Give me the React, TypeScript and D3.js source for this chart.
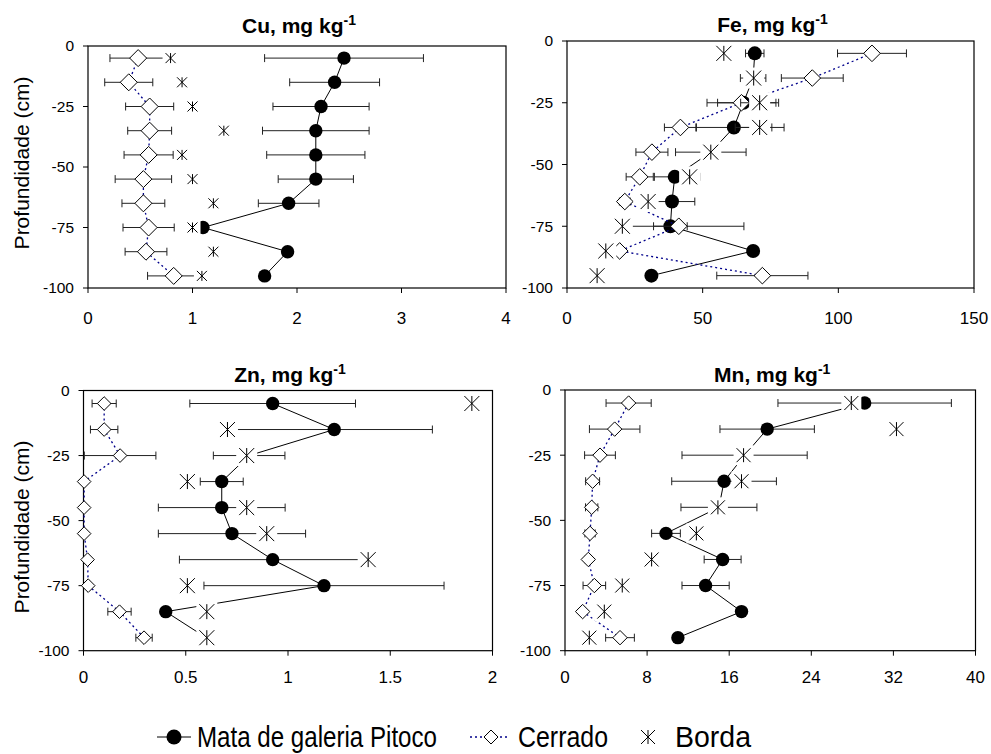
import React from 'react';
import * as d3 from 'd3';

// ---------- data ----------
const depths = [-5, -15, -25, -35, -45, -55, -65, -75, -85, -95];
const yTicks = [0, -25, -50, -75, -100];

const cuMata = [2.45, 2.36, 2.23, 2.18, 2.18, 2.18, 1.92, 1.1, 1.91, 1.69];
const cuMataErr = [0.76, 0.43, 0.46, 0.51, 0.47, 0.36, 0.29, 0, 0, 0];
const cuCerrado = [0.48, 0.39, 0.59, 0.59, 0.58, 0.53, 0.53, 0.58, 0.555, 0.82];
const cuCerradoErr = [0.27, 0.23, 0.23, 0.21, 0.235, 0.27, 0.205, 0.245, 0.2, 0.25];
const cuBorda = [0.79, 0.9, 1.0, 1.3, 0.9, 1.0, 1.2, 1.0, 1.2, 1.09];
const cuBordaErr = [0, 0, 0, 0, 0, 0, 0, 0, 0, 0];
const cuTicks = [0, 1, 2, 3, 4];

const feMata = [69.2, 68.6, 65, 61.5, 53, 39.7, 38.7, 38.1, 68.6, 31.1];
const feMataErr = [3.4, 4.7, 9.5, 14, 13, 7.5, 8.4, 6.2, 0, 0];
const feCerrado = [112.4, 90.4, 64.3, 41.8, 31.3, 26.8, 21.3, 41.2, 19.4, 72.0];
const feCerradoErr = [12.7, 11.4, 12.7, 5.9, 5.9, 5, 2, 24, 0, 16.8];
const feBorda = [57.8, 68.8, 71, 71, 53, 45.2, 29.9, 20.4, 14.3, 11.1];
const feBordaErr = [0, 0, 7, 9, 0, 3.7, 0, 0, 0, 0];
const feTicks = [0, 50, 100, 150];

const znMata = [0.925, 1.226, 0.81, 0.676, 0.676, 0.726, 0.925, 1.176, 0.402, 0.6];
const znMataErr = [0.405, 0.48, 0.175, 0.105, 0.31, 0.36, 0.456, 0.587, 0, 0];
const znCerrado = [0.101, 0.101, 0.179, 0.003, 0.003, 0.003, 0.02, 0.023, 0.176, 0.296];
const znCerradoErr = [0.059, 0.067, 0.175, 0, 0, 0.01, 0, 0, 0.057, 0.04];
const znBorda = [1.899, 0.704, 0.798, 0.508, 0.798, 0.896, 1.392, 0.508, 0.603, 0.603];
const znBordaErr = [0, 0, 0, 0, 0, 0, 0, 0, 0, 0];
const znTicks = [0, 0.5, 1, 1.5, 2];

const mnMata = [29.2, 19.7, 17.5, 15.5, 15.0, 9.84, 15.36, 13.7, 17.2, 11.0];
const mnMataErr = [8.45, 4.6, 6.1, 5.1, 3.7, 1.4, 1.8, 2.3, 0, 0];
const mnCerrado = [6.2, 4.84, 3.41, 2.69, 2.6, 2.44, 2.27, 2.86, 1.72, 5.36];
const mnCerradoErr = [2.2, 2.46, 1.5, 0.68, 0.6, 0.5, 0.3, 1.1, 0, 1.4];
const mnBorda = [27.9, 32.3, 17.4, 17.2, 14.9, 12.8, 8.44, 5.58, 3.83, 2.37];
const mnBordaErr = [0, 0, 0, 0, 0, 0, 0, 0, 0, 0];
const mnTicks = [0, 8, 16, 24, 32, 40];

const seriesNames = ['Mata de galeria Pitoco', 'Cerrado', 'Borda'];
const yLabel = 'Profundidade (cm)';

// ---------- layout ----------
const FONT = "'Liberation Sans', Arial, Helvetica, sans-serif";

const panels = [
  { el: 'Cu', mata: cuMata, mataErr: cuMataErr, cerrado: cuCerrado, cerradoErr: cuCerradoErr, borda: cuBorda, bordaErr: cuBordaErr, domain: [0, 4], ticks: cuTicks,
    l: 88, r: 506, t: 46, b: 288, circle: 6.7, diamond: 8.5, star: 5, xLab: 36, titleY: 33, showY: true, yLabY: 163 },
  { el: 'Fe', mata: feMata, mataErr: feMataErr, cerrado: feCerrado, cerradoErr: feCerradoErr, borda: feBorda, bordaErr: feBordaErr, domain: [0, 150], ticks: feTicks,
    l: 567, r: 974, t: 41, b: 288, circle: 7, diamond: 8.3, star: 7.5, xLab: 36, titleY: 31.5, showY: false, yLabY: 0 },
  { el: 'Zn', mata: znMata, mataErr: znMataErr, cerrado: znCerrado, cerradoErr: znCerradoErr, borda: znBorda, bordaErr: znBordaErr, domain: [0, 2], ticks: znTicks,
    l: 83.5, r: 492.5, t: 390.5, b: 650.7, circle: 6.7, diamond: 6.8, star: 7.5, xLab: 32, titleY: 381.5, showY: true, yLabY: 527 },
  { el: 'Mn', mata: mnMata, mataErr: mnMataErr, cerrado: mnCerrado, cerradoErr: mnCerradoErr, borda: mnBorda, bordaErr: mnBordaErr, domain: [0, 40], ticks: mnTicks,
    l: 565, r: 975.5, t: 390, b: 650.7, circle: 6.7, diamond: 7.2, star: 7, xLab: 32, titleY: 381.5, showY: false, yLabY: 0 },
];

const starPath = (s: number) => `M0,${-s}V${s}M${-s},${-s}L${s},${s}M${-s},${s}L${s},${-s}`;
const diamondPath = (s: number) => `M0,${-s}L${s},0L0,${s}L${-s},0Z`;

const ERR = '#222';
const NAVY = '#00008b';

function ErrorBars({ vals, errs, x, y }: any) {
  return (
    <g stroke={ERR} strokeWidth={1} fill="none">
      {vals.map((v: number, i: number) => {
        const e = errs[i];
        if (!e) return null;
        const yy = y(depths[i]);
        const x0 = x(v - e), x1 = x(v + e);
        return (
          <g key={i}>
            <line x1={x0} x2={x1} y1={yy} y2={yy} />
            <line x1={x0} x2={x0} y1={yy - 4} y2={yy + 4} />
            <line x1={x1} x2={x1} y1={yy - 4} y2={yy + 4} />
          </g>
        );
      })}
    </g>
  );
}

function Panel({ p }: any) {
  const x = d3.scaleLinear().domain(p.domain).range([p.l, p.r]);
  const y = d3.scaleLinear().domain([0, -100]).range([p.t, p.b]);
  const line = d3.line<number>().x((d) => x(d)).y((_d, i) => y(depths[i]));
  const cx = (p.l + p.r) / 2;
  return (
    <g>
      <text x={cx + 2} y={p.titleY} textAnchor="middle" fontFamily={FONT} fontWeight="bold" fontSize={21}>
        {p.el}, mg kg<tspan fontSize={14} dy={-8}>-1</tspan>
      </text>
      {/* frame */}
      <rect x={p.l} y={p.t} width={p.r - p.l} height={p.b - p.t} fill="none" stroke="#000" strokeWidth={1.2} />
      {/* y ticks */}
      {yTicks.map((t) => (
        <g key={'y' + t}>
          <line x1={p.l - 5} x2={p.l} y1={y(t)} y2={y(t)} stroke="#000" />
          <text x={p.l - 14} y={y(t)} dy="0.35em" textAnchor="end" fontFamily={FONT} fontSize={15.5}>{String(t)}</text>
        </g>
      ))}
      {/* x ticks */}
      {p.ticks.map((t: number) => (
        <g key={'x' + t}>
          <line x1={x(t)} x2={x(t)} y1={p.b} y2={p.b + 5} stroke="#000" />
          <text x={x(t)} y={p.b + p.xLab} textAnchor="middle" fontFamily={FONT} fontSize={17}>{String(t)}</text>
        </g>
      ))}
      {p.showY && (
        <text transform={`translate(29,${p.yLabY}) rotate(-90)`} textAnchor="middle" fontFamily={FONT} fontSize={21}>{yLabel}</text>
      )}
      {/* Mata */}
      <path d={line(p.mata) || ''} fill="none" stroke="#000" strokeWidth={1} />
      <ErrorBars vals={p.mata} errs={p.mataErr} x={x} y={y} />
      {p.mata.map((v: number, i: number) => (
        <circle key={'m' + i} cx={x(v)} cy={y(depths[i])} r={p.circle} fill="#000" />
      ))}
      {/* Cerrado */}
      <path d={line(p.cerrado) || ''} fill="none" stroke={NAVY} strokeWidth={1.3} strokeDasharray="2 3" />
      <ErrorBars vals={p.cerrado} errs={p.cerradoErr} x={x} y={y} />
      {p.cerrado.map((v: number, i: number) => (
        <path key={'c' + i} d={diamondPath(p.diamond)} transform={`translate(${x(v)},${y(depths[i])})`} fill="#fff" stroke="#000" strokeWidth={1} />
      ))}
      {/* Borda */}
      <ErrorBars vals={p.borda} errs={p.bordaErr} x={x} y={y} />
      {p.borda.map((v: number, i: number) => (
        <g key={'b' + i} transform={`translate(${x(v)},${y(depths[i])})`}>
          <rect x={-(p.star + 3)} y={-(p.star + 3)} width={2 * (p.star + 3)} height={2 * (p.star + 3)} fill="#fff" />
          <path d={starPath(p.star)} stroke="#000" strokeWidth={1} fill="none" />
        </g>
      ))}
    </g>
  );
}

function Legend() {
  const ly = 737;
  return (
    <g fontFamily={FONT} fontSize={29}>
      <line x1={157} x2={191} y1={ly} y2={ly} stroke="#000" />
      <circle cx={174} cy={ly} r={7.5} fill="#000" />
      <text x={197} y={747} textLength={240} lengthAdjust="spacingAndGlyphs">{seriesNames[0]}</text>
      <line x1={470} x2={510} y1={ly} y2={ly} stroke={NAVY} strokeWidth={1.3} strokeDasharray="2 3" />
      <path d={diamondPath(7)} transform={`translate(491,${ly})`} fill="#fff" stroke="#000" />
      <text x={518} y={747} textLength={90} lengthAdjust="spacingAndGlyphs">{seriesNames[1]}</text>
      <path d={starPath(7)} transform={`translate(648,${ly})`} stroke="#000" fill="none" />
      <text x={675} y={747} textLength={76} lengthAdjust="spacingAndGlyphs">{seriesNames[2]}</text>
    </g>
  );
}

export default function App() {
  return (
    <svg width={991} height={754} style={{ position: 'absolute', left: 0, top: 0, background: '#fff' }}>
      <rect x={0} y={0} width={991} height={754} fill="#fff" />
      {panels.map((p) => (
        <Panel key={p.el} p={p} />
      ))}
      <Legend />
    </svg>
  );
}
